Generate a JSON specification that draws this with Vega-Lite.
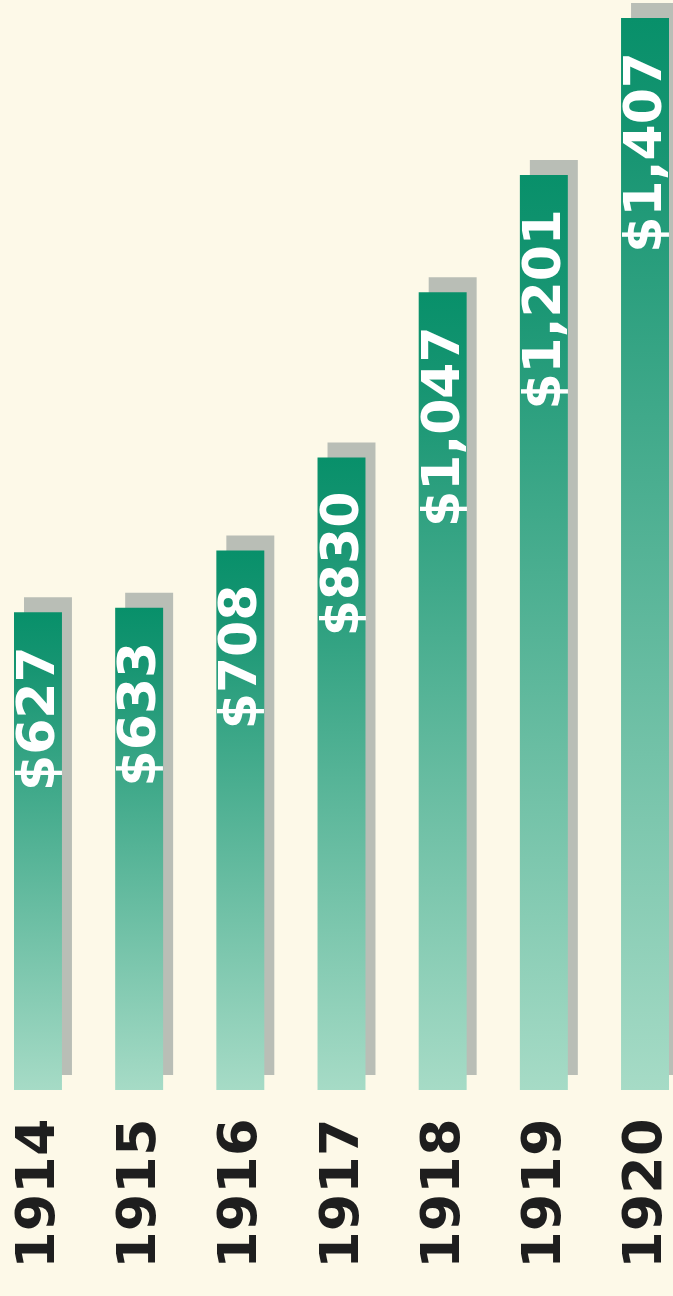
{
  "$schema": "https://vega.github.io/schema/vega-lite/v6.json",
  "width": 673,
  "height": 1072,
  "autosize": {"type": "none"},
  "padding": {"top": 18, "left": 0, "right": 0, "bottom": 206},
  "background": "#FDF9E8",
  "config": {"view": {"stroke": null}},
  "data": {"values": [
    {"year": "1914", "value": 627},
    {"year": "1915", "value": 633},
    {"year": "1916", "value": 708},
    {"year": "1917", "value": 830},
    {"year": "1918", "value": 1047},
    {"year": "1919", "value": 1201},
    {"year": "1920", "value": 1407}
  ]},
  "encoding": {
    "x": {
      "field": "year", "type": "ordinal", "title": null,
      "scale": {"range": [14, 669], "paddingInner": 0.526, "paddingOuter": 0},
      "axis": {
        "orient": "bottom", "labelAngle": 270, "labelPadding": 28,
        "domain": false, "ticks": false, "tickSize": 0, "grid": false,
        "labelFont": "DejaVu Sans", "labelFontWeight": "bold", "labelFontSize": 54,
        "labelColor": "#1E1E1E", "labelAlign": "right", "labelBaseline": "middle"
      }
    },
    "y": {
      "field": "value", "type": "quantitative",
      "scale": {"domain": [0, 1407], "nice": false},
      "axis": null
    }
  },
  "layer": [
    {
      "mark": {"type": "bar", "color": "#B9BEB6", "xOffset": 10, "yOffset": -15}
    },
    {
      "mark": {
        "type": "bar",
        "color": {
          "gradient": "linear", "x1": 0, "y1": 0, "x2": 0, "y2": 1,
          "stops": [
            {"offset": 0, "color": "#08906A"},
            {"offset": 0.12, "color": "#179572"},
            {"offset": 1, "color": "#A6DBC6"}
          ]
        }
      }
    },
    {
      "mark": {
        "type": "text", "angle": 270, "align": "right", "baseline": "middle",
        "dx": -34, "color": "#FFFFFF", "font": "DejaVu Sans",
        "fontWeight": "bold", "fontSize": 52
      },
      "encoding": {
        "text": {"field": "value", "type": "quantitative", "format": "$,.0f"}
      }
    }
  ]
}
